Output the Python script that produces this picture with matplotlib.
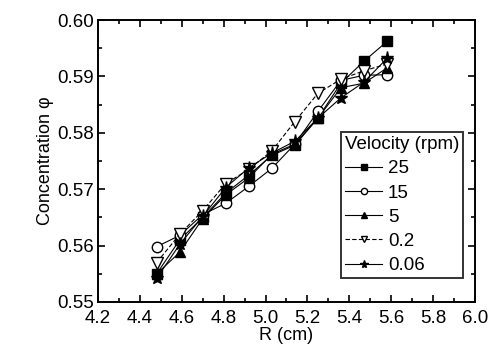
import matplotlib
matplotlib.use("Agg")
import matplotlib.pyplot as plt
from matplotlib.ticker import MultipleLocator

plt.rcParams['font.family'] = ['Liberation Sans', 'DejaVu Sans']

# radius positions (cm)
r = [4.48, 4.59, 4.70, 4.81, 4.92, 5.03, 5.14, 5.25, 5.36, 5.47, 5.58]

# concentration for each rotation velocity (rpm)
phi_25 = [0.5550, 0.5610, 0.5650, 0.5693, 0.5725, 0.5760, 0.5778, 0.5826, 0.5888, 0.5927, 0.5962]
phi_15 = [0.5598, 0.5618, 0.5655, 0.5675, 0.5705, 0.5737, 0.5780, 0.5838, 0.5893, 0.5902, 0.5903]
phi_5 = [0.5550, 0.5588, 0.5648, 0.5690, 0.5720, 0.5762, 0.5780, 0.5826, 0.5880, 0.5888, 0.5915]
phi_02 = [0.5570, 0.5620, 0.5662, 0.5710, 0.5735, 0.5768, 0.5820, 0.5870, 0.5895, 0.5910, 0.5922]
phi_006 = [0.5542, 0.5602, 0.5652, 0.5703, 0.5738, 0.5764, 0.5785, 0.5826, 0.5862, 0.5890, 0.5932]

labels = ['25', '15', '5', '0.2', '0.06']

fig = plt.figure(figsize=(4.91, 3.54), dpi=100)
ax = fig.add_axes([0.1996, 0.1469, 0.7678, 0.7966])

series = [phi_25, phi_15, phi_5, phi_02, phi_006]
markers = ['s', 'o', '^', 'v', '*']
fills = ['black', 'white', 'black', 'white', 'black']
styles = ['-', '-', '-', (0, (4, 2)), '-']
sizes = [7, 7.5, 7.5, 8, 9.5]
for y, m, fc, ls, ms, lab in zip(series, markers, fills, styles, sizes, labels):
    ax.plot(r, y, marker=m, markerfacecolor=fc, markeredgecolor='black',
            markersize=ms, markeredgewidth=1.0, color='black', lw=0.8,
            linestyle=ls, label=lab)

ax.set_xlim(4.2, 6.0)
ax.set_ylim(0.55, 0.60)
ax.xaxis.set_major_locator(MultipleLocator(0.2))
ax.xaxis.set_minor_locator(MultipleLocator(0.1))
ax.yaxis.set_major_locator(MultipleLocator(0.01))
ax.yaxis.set_minor_locator(MultipleLocator(0.005))
ax.xaxis.set_major_formatter(plt.FormatStrFormatter('%.1f'))
ax.yaxis.set_major_formatter(plt.FormatStrFormatter('%.2f'))
ax.tick_params(which='both', direction='in', top=True, right=True,
               labelsize=13.5, width=1.2, colors='black')
ax.tick_params(axis='x', pad=6)
ax.tick_params(axis='y', pad=3)
ax.tick_params(which='major', length=5)
ax.tick_params(which='minor', length=3)
for s in ax.spines.values():
    s.set_linewidth(1.4)

ax.set_xlabel('R (cm)', fontsize=13, labelpad=0)
ax.set_ylabel('Concentration φ', fontsize=13, labelpad=2)

leg = ax.legend(title='Velocity (rpm)', loc='lower right',
                bbox_to_anchor=(0.968, 0.085), fontsize=13.5, title_fontsize=13.5,
                frameon=True, fancybox=False, edgecolor='black', markerscale=0.6,
                handlelength=2.0, handletextpad=0.3, labelspacing=0.38,
                borderpad=0.2, borderaxespad=0)
leg._legend_box.align = 'left'
leg.get_frame().set_linewidth(1.4)

fig.savefig('out.png', dpi=100)
